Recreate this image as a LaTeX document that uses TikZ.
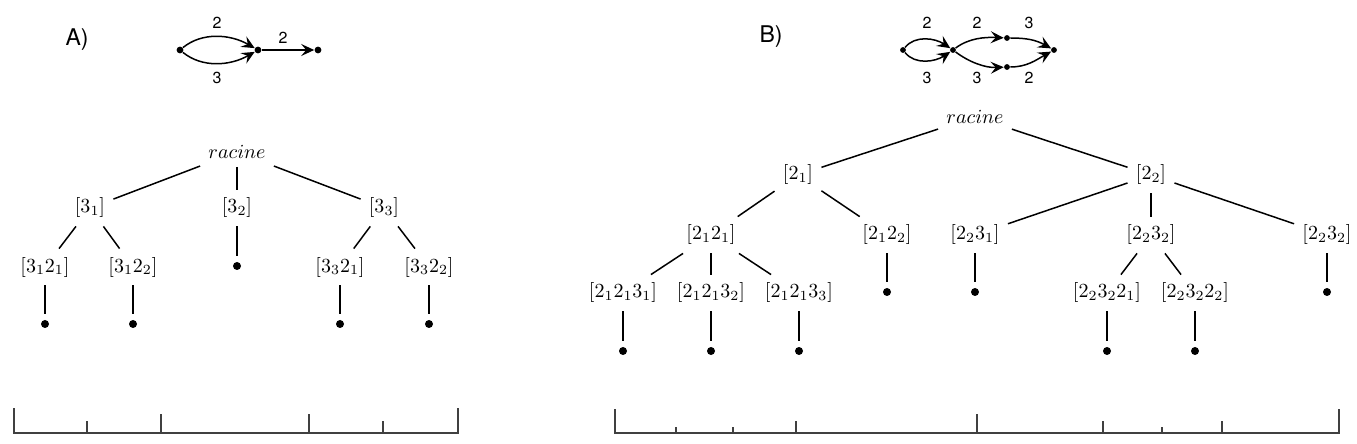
\documentclass[tikz,border=0pt]{standalone}
\usepackage{fontspec}
\newfontfamily\hv{TeX Gyre Heros}
\usetikzlibrary{arrows.meta}
\tikzset{
  x=0.5pt, y=-0.5pt,
  lbl/.style={inner sep=4pt},
  dotn/.style={circle, fill, inner sep=0pt, minimum size=4pt, outer sep=3pt},
  gdot/.style={circle, fill, inner sep=0pt, minimum size=3.4pt},
  gdotb/.style={circle, fill, inner sep=0pt, minimum size=2.9pt},
  tedge/.style={line width=0.75pt},
  arr/.style={line width=0.75pt, -{Stealth[length=6.5pt,width=6pt,inset=2.5pt]}},
  num/.style={font=\hv\fontsize{8}{9}\selectfont, inner sep=0pt},
  panel/.style={font=\hv\fontsize{11.5}{13}\selectfont, inner sep=0pt},
  axis/.style={line width=1pt, draw=black!75},
}
\begin{document}
\begin{tikzpicture}
\useasboundingbox (0,0) rectangle (1357,444);

% ---------------- Panel A ----------------
\node[panel] (labA) at (77,40) {A)};
\node[gdot] (ga1) at (180,50) {};
\node[gdot] (ga2) at (258,50) {};
\node[gdot] (ga3) at (318,50) {};
\draw[arr] (ga1) .. controls +(22,-18) and +(-28,-16) .. (ga2);
\draw[arr] (ga1) .. controls +(22,18) and +(-28,16) .. (ga2);
\draw[arr] (ga2) -- (ga3);
\node[num] (na1) at (217,23) {2};
\node[num] (na2) at (217,78) {3};
\node[num] (na3) at (283,38) {2};

\node[lbl] (rA) at (237,152) {$racine$};
\node[lbl] (a1) at (90,208) {$[3_1]$};
\node[lbl] (a2) at (237,208) {$[3_2]$};
\node[lbl] (a3) at (384,208) {$[3_3]$};
\node[lbl] (a11) at (45,267) {$[3_1 2_1]$};
\node[lbl] (a12) at (133,267) {$[3_1 2_2]$};
\node[dotn] (a2d) at (237,266) {};
\node[lbl] (a31) at (340,267) {$[3_3 2_1]$};
\node[lbl] (a32) at (429,267) {$[3_3 2_2]$};
\node[dotn] (a11d) at (45,324) {};
\node[dotn] (a12d) at (133,324) {};
\node[dotn] (a31d) at (340,324) {};
\node[dotn] (a32d) at (429,324) {};
\draw[tedge] (rA) -- (a1);
\draw[tedge] (rA) -- (a2);
\draw[tedge] (rA) -- (a3);
\draw[tedge] (a1) -- (a11);
\draw[tedge] (a1) -- (a12);
\draw[tedge] (a2) -- (a2d);
\draw[tedge] (a3) -- (a31);
\draw[tedge] (a3) -- (a32);
\draw[tedge] (a11) -- (a11d);
\draw[tedge] (a12) -- (a12d);
\draw[tedge] (a31) -- (a31d);
\draw[tedge] (a32) -- (a32d);

\draw[axis] (14,408) -- (14,433) -- (458,433) -- (458,408);
\draw[axis] (87,433) -- (87,421);
\draw[axis] (161,433) -- (161,414);
\draw[axis] (309,433) -- (309,414);
\draw[axis] (383,433) -- (383,421);

% ---------------- Panel B ----------------
\node[panel] (labB) at (771,37) {B)};
\node[gdotb] (gb1) at (903,50) {};
\node[gdotb] (gb2) at (953,50) {};
\node[gdotb] (gb3) at (1007,38) {};
\node[gdotb] (gb4) at (1007,67) {};
\node[gdotb] (gb5) at (1054,50) {};
\draw[arr] (gb1) .. controls +(12,-15) and +(-18,-12) .. (gb2);
\draw[arr] (gb1) .. controls +(12,15) and +(-18,12) .. (gb2);
\draw[arr] (gb2) .. controls +(16,-12) and +(-22,-1) .. (gb3);
\draw[arr] (gb2) .. controls +(16,12) and +(-22,1) .. (gb4);
\draw[arr] (gb3) .. controls +(20,0) and +(-18,-10) .. (gb5);
\draw[arr] (gb4) .. controls +(20,0) and +(-18,10) .. (gb5);
\node[num] (nb1) at (927,23) {2};
\node[num] (nb2) at (927,78) {3};
\node[num] (nb3) at (977,23) {2};
\node[num] (nb4) at (977,78) {3};
\node[num] (nb5) at (1029,23) {3};
\node[num] (nb6) at (1029,78) {2};

\node[lbl] (rB) at (975,117) {$racine$};
\node[lbl] (b1) at (798,175) {$[2_1]$};
\node[lbl] (b2) at (1151,175) {$[2_2]$};
\node[lbl] (b11) at (711,235) {$[2_1 2_1]$};
\node[lbl] (b12) at (887,235) {$[2_1 2_2]$};
\node[lbl] (b21) at (975,235) {$[2_2 3_1]$};
\node[lbl] (b22) at (1151,235) {$[2_2 3_2]$};
\node[lbl] (b23) at (1327,235) {$[2_2 3_2]$};
\node[lbl] (b111) at (623,293) {$[2_1 2_1 3_1]$};
\node[lbl] (b112) at (711,293) {$[2_1 2_1 3_2]$};
\node[lbl] (b113) at (799,293) {$[2_1 2_1 3_3]$};
\node[dotn] (b12d) at (887,292) {};
\node[dotn] (b21d) at (975,292) {};
\node[lbl] (b221) at (1107,293) {$[2_2 3_2 2_1]$};
\node[lbl] (b222) at (1195,293) {$[2_2 3_2 2_2]$};
\node[dotn] (b23d) at (1327,292) {};
\node[dotn] (b111d) at (623,351) {};
\node[dotn] (b112d) at (711,351) {};
\node[dotn] (b113d) at (799,351) {};
\node[dotn] (b221d) at (1107,351) {};
\node[dotn] (b222d) at (1195,351) {};
\draw[tedge] (rB) -- (b1);
\draw[tedge] (rB) -- (b2);
\draw[tedge] (b1) -- (b11);
\draw[tedge] (b1) -- (b12);
\draw[tedge] (b2) -- (b21);
\draw[tedge] (b2) -- (b22);
\draw[tedge] (b2) -- (b23);
\draw[tedge] (b11) -- (b111);
\draw[tedge] (b11) -- (b112);
\draw[tedge] (b11) -- (b113);
\draw[tedge] (b12) -- (b12d);
\draw[tedge] (b21) -- (b21d);
\draw[tedge] (b22) -- (b221);
\draw[tedge] (b22) -- (b222);
\draw[tedge] (b23) -- (b23d);
\draw[tedge] (b111) -- (b111d);
\draw[tedge] (b112) -- (b112d);
\draw[tedge] (b113) -- (b113d);
\draw[tedge] (b221) -- (b221d);
\draw[tedge] (b222) -- (b222d);

\draw[axis] (615,409) -- (615,433) -- (1339,433) -- (1339,409);
\draw[axis] (676,433) -- (676,427);
\draw[axis] (733,433) -- (733,427);
\draw[axis] (796,433) -- (796,421);
\draw[axis] (977,433) -- (977,414);
\draw[axis] (1103,433) -- (1103,421);
\draw[axis] (1162,433) -- (1162,427);
\draw[axis] (1222,433) -- (1222,421);
\end{tikzpicture}
\end{document}
